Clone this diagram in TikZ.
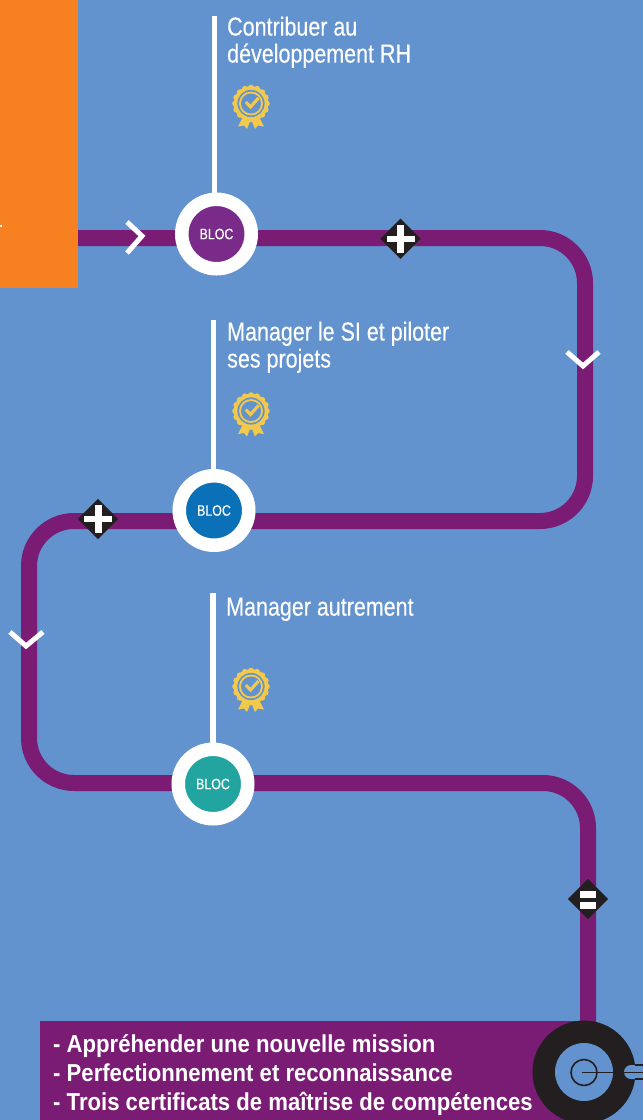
\documentclass[tikz,border=0pt]{standalone}
\usepackage{fontspec}
\setmainfont{Liberation Sans}
\newfontfamily\narrowfont{Liberation Sans}[FakeStretch=0.826,FakeBold=0.25]
\newfontfamily\narrowbold{Liberation Sans Bold}[FakeStretch=0.903,BoldFont={Liberation Sans Bold}]
\definecolor{bgblue}{HTML}{6293CE}
\definecolor{pathpurple}{HTML}{7A1B74}
\definecolor{dark}{HTML}{231F20}
\definecolor{orangeb}{HTML}{F78121}
\definecolor{gold}{HTML}{F3C94B}
\definecolor{b1}{HTML}{7A2B8A}
\definecolor{b2}{HTML}{0A71B9}
\definecolor{b3}{HTML}{22A5A0}
\usetikzlibrary{shapes.geometric}
\tikzset{
 route/.style={draw=pathpurple,line width=16pt,rounded corners=45pt},
 stem/.style={draw=white,line width=5.5pt},
 blocnode/.style={circle,draw=white,line width=13.5pt,minimum size=69.5pt,inner sep=0pt,text=white,font=\narrowfont\fontsize{15}{15}\selectfont},
 title/.style={anchor=north west,align=left,text=white,inner sep=0pt,font=\narrowfont\fontsize{26}{27}\selectfont},
 chev/.style={draw=white,line width=5pt},
 diam/.style={diamond,fill=dark,minimum size=40.5pt,inner sep=0pt},
}
\newcommand{\medal}[1]{%
 \begin{scope}[shift={(#1)}]
  \fill[gold] (-8.5,14) -- (-13,23) -- (-7,22) -- (-4,25.5) -- (-1,18) -- cycle;
  \fill[gold] (8.5,14) -- (13,23) -- (7,22) -- (4,25.5) -- (1,18) -- cycle;
  \fill[gold] (0,0) circle (17.3);
  \foreach \a in {0,22.5,...,337.5} {\fill[gold] (\a:15.8) circle (3);}
  \fill[bgblue] (0,0) circle (13.6);
  \fill[gold] (0,0) circle (12);
  \fill[bgblue] (0,0) circle (10);
  \draw[gold,line width=3.1pt] (-5.2,-1.5) -- (-0.5,3.5) -- (7.5,-5.5);
 \end{scope}}
\begin{document}
\begin{tikzpicture}[x=1pt,y=-1pt]
\useasboundingbox (0,0) rectangle (643,1120);
\fill[bgblue] (0,0) rectangle (643,1120);
\coordinate (s) at (78,238);
\coordinate (e) at (588,1040);
\draw[route] (s) -- (585,238) -- (585,521) -- (29,521) -- (29,783) -- (588,783) -- (e);
\node[fill=orangeb,minimum width=78pt,minimum height=288pt,inner sep=0pt,anchor=north west] (panel) at (0,0) {};
\fill[white] (0,225) rectangle (2,227);
\node[blocnode,fill=b1] (b1n) at (216.5,234) {BLOC};
\node[blocnode,fill=b2] (b2n) at (214,510.5) {BLOC};
\node[blocnode,fill=b3] (b3n) at (213,784) {BLOC};
\coordinate (t1) at (214.5,16);
\coordinate (t2) at (213.5,320);
\coordinate (t3) at (213,593);
\draw[stem] (t1) -- (t1 |- b1n.north);
\draw[stem] (t2) -- (t2 |- b2n.north);
\draw[stem] (t3) -- (t3 |- b3n.north);
\node[title] (l1) at (227,16.5) {Contribuer au\\développement RH};
\node[title] (l2) at (227,321.5) {Manager le SI et piloter\\ses projets};
\node[title] (l3) at (226,597.5) {Manager autrement};
\medal{251,103.5}
\medal{251,411}
\medal{251,686.5}
\draw[chev] (127,222) -- (142,236) -- (127,253);
\draw[chev] (567,352) -- (583,366) -- (599,352);
\draw[chev] (10,632) -- (26,646) -- (43,632);
\node[diam] (p1) at (400.5,238.7) {};
\fill[white] (386.5,235.5) rectangle (414.5,241.5);
\fill[white] (397,224.5) rectangle (404,252.5);
\node[diam] (p2) at (98,519) {};
\fill[white] (84,516) rectangle (112,522);
\fill[white] (94.5,505) rectangle (101.5,533);
\node[diam] (p3) at (588,899) {};
\fill[white] (580,891) rectangle (596,898);
\fill[white] (580,902) rectangle (596,909);
\fill[pathpurple] (40,1021) rectangle (590,1120);
\node[anchor=north west,align=left,text=white,inner sep=0pt,font=\narrowbold\fontsize{24.5}{29}\selectfont] (lst) at (53,1034) {- Appréhender une nouvelle mission\\- Perfectionnement et reconnaissance\\- Trois certificats de maîtrise de compétences};
\fill[dark] (584,1072) circle (51.5);
\fill[bgblue] (584,1072) circle (29);
\draw[dark,line width=1.6pt] (584,1072.5) circle (13);
\fill[bgblue] (643,1065) -- (631,1065) arc[start angle=-90,end angle=-270,radius=7] -- (643,1079) -- cycle;
\draw[dark,line width=1.3pt] (643,1065) -- (635,1065);
\draw[dark,line width=1.3pt] (643,1079) -- (635,1079);
\draw[dark,line width=1.6pt] (582,1072.3) -- (643,1072.3);
\end{tikzpicture}
\end{document}
